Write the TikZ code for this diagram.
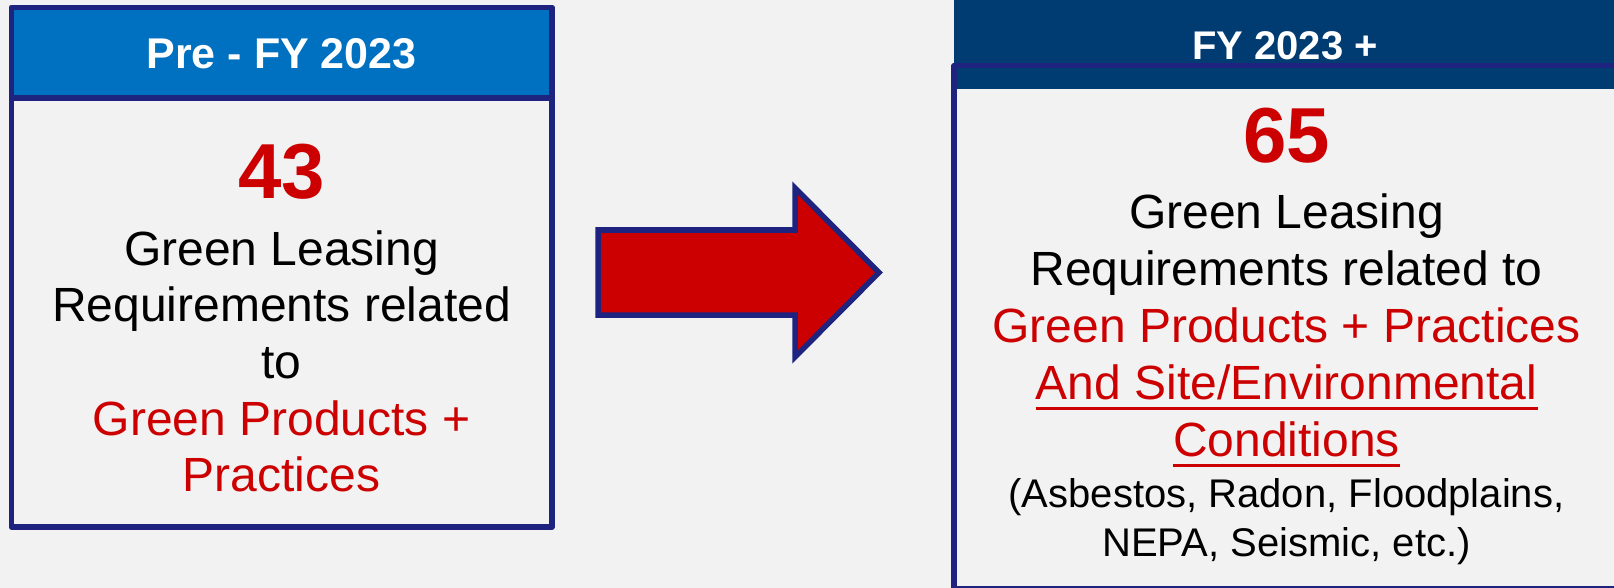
\documentclass[tikz,border=0pt]{standalone}
\usepackage{fontspec}
\setmainfont{Liberation Sans}
\definecolor{bgc}{HTML}{F2F2F2}
\definecolor{navyb}{HTML}{1E2380}
\definecolor{lblue}{HTML}{0070C0}
\definecolor{dblue}{HTML}{003C71}
\definecolor{redc}{HTML}{CC0000}
\begin{document}
\begin{tikzpicture}[x=1pt,y=-1pt,
  frame/.style={draw=navyb, line width=5.5pt, line join=round},
  hdr/.style={inner sep=0pt, anchor=base, text=white, font=\fontsize{43}{50}\selectfont\bfseries},
  hdrb/.style={inner sep=0pt, anchor=base, text=white, font=\fontsize{40}{48}\selectfont\bfseries},
  num/.style={inner sep=0pt, anchor=base, text=redc, font=\fontsize{78}{90}\selectfont\bfseries},
  txt/.style={inner sep=0pt, anchor=base, text=black, font=\fontsize{48}{57}\selectfont},
  rtxt/.style={txt, text=redc},
  stxt/.style={inner sep=0pt, anchor=base, text=black, font=\fontsize{40}{48}\selectfont},
  ul/.style={draw=redc, line width=2.8pt}]
\fill[bgc] (0,0) rectangle (1614,588);
\useasboundingbox (0,0) rectangle (1614,588);

% left box
\path[frame, fill=lblue] (11.3,7.3) rectangle (552,98);
\path[frame] (11.3,98) rectangle (552,527);
\node[hdr] (lh) at (281.6,68.3) {Pre - FY 2023};
\node[num] (n43) at (281.6,199) {43};
\node[txt] (l1) at (281.6,265) {Green Leasing};
\node[txt] (l2) at (281.6,321.7) {Requirements related};
\node[txt] (l3) at (281.6,378.3) {to};
\node[rtxt] (l4) at (281.6,435) {Green Products +};
\node[rtxt] (l5) at (281.6,491.6) {Practices};

% arrow
\filldraw[fill=redc, draw=navyb, line width=5.5pt, line join=miter]
  (598,230) -- (795,230) -- (795,188) -- (879,272.5) -- (795,357) -- (795,315) -- (598,315) -- cycle;

% right box
\fill[dblue] (954,0) rectangle (1620,88.7);
\path[frame] (954,65.5) rectangle (1619,589);
\node[hdrb] (rh) at (1285,59.3) {FY 2023 +};
\node[num] (n65) at (1286.5,162.6) {65};
\node[txt] (r1) at (1286.5,228.5) {Green Leasing};
\node[txt] (r2) at (1286.5,285.5) {Requirements related to};
\node[rtxt] (r3) at (1286.5,342.5) {Green Products + Practices};
\node[rtxt] (r4) at (1286.5,399.5) {And Site/Environmental};
\node[rtxt] (r5) at (1286.5,456.5) {Conditions};
\node[stxt] (r6) at (1286.5,507) {(Asbestos, Radon, Floodplains,};
\node[stxt] (r7) at (1286.5,556) {NEPA, Seismic, etc.)};
\draw[ul] ([yshift=-9pt]r4.base west) -- ([yshift=-9pt]r4.base east);
\draw[ul] ([yshift=-9pt]r5.base west) -- ([yshift=-9pt]r5.base east);
\end{tikzpicture}
\end{document}
